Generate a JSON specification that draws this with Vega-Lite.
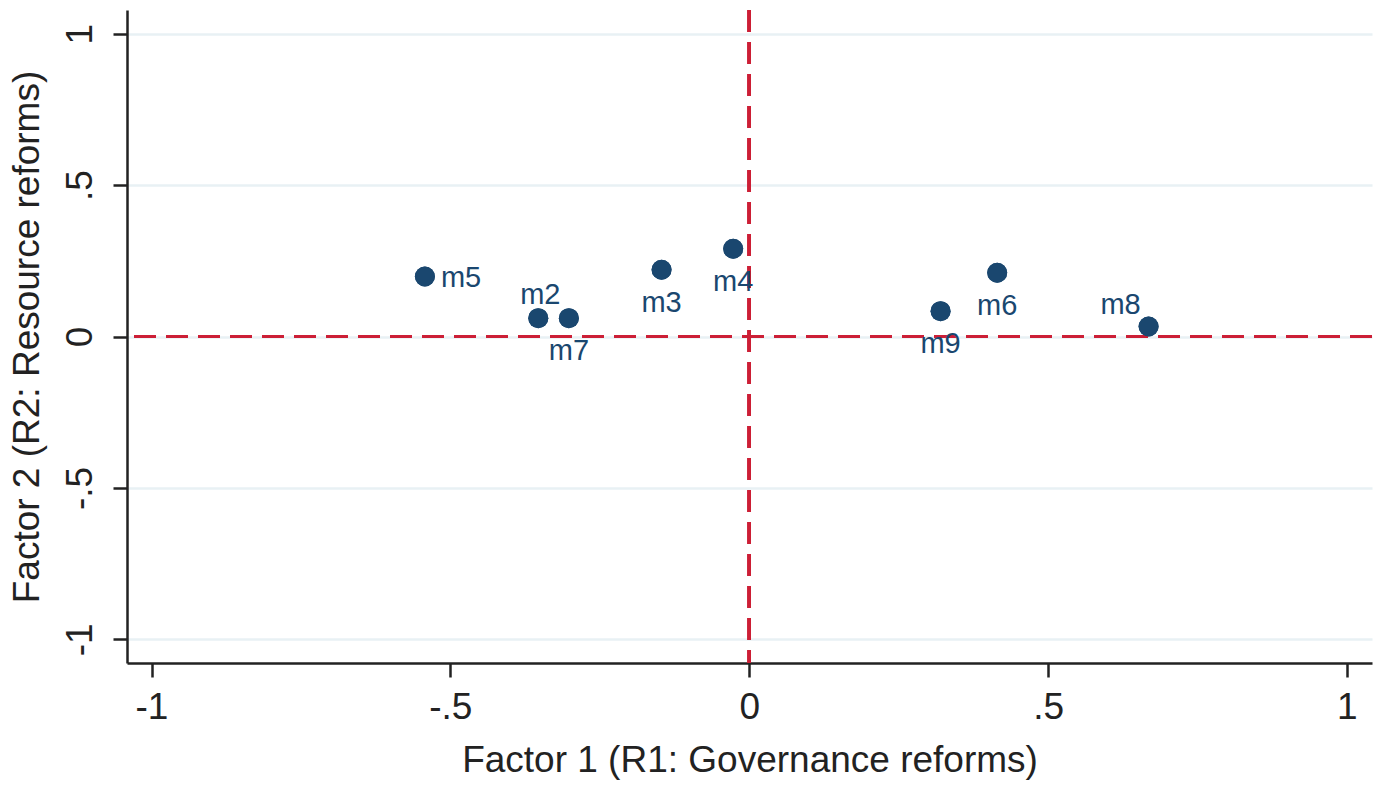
{
  "$schema": "https://vega.github.io/schema/vega-lite/v6.json",
  "width": 1245,
  "height": 653,
  "autosize": "none",
  "padding": {"left": 127, "top": 10, "right": 9, "bottom": 124},
  "background": "white",
  "config": {"view": {"stroke": null}, "font": "Liberation Sans"},
  "data": {
    "values": [
      {"name": "m5", "f1": -0.5426, "f2": 0.198},
      {"name": "m2", "f1": -0.3529, "f2": 0.0605},
      {"name": "m7", "f1": -0.3017, "f2": 0.0605},
      {"name": "m3", "f1": -0.1466, "f2": 0.2204},
      {"name": "m4", "f1": -0.0268, "f2": 0.2897},
      {"name": "m9", "f1": 0.3202, "f2": 0.0836},
      {"name": "m6", "f1": 0.4149, "f2": 0.2104},
      {"name": "m8", "f1": 0.6682, "f2": 0.033}
    ]
  },
  "layer": [
    {
      "mark": {"type": "point", "filled": true, "size": 400, "color": "#1a476f", "opacity": 1},
      "encoding": {
        "x": {
          "field": "f1", "type": "quantitative",
          "scale": {"domain": [-1.041, 1.042], "nice": false, "zero": false},
          "axis": {
            "title": "Factor 1 (R1: Governance reforms)",
            "grid": false,
            "values": [-1, -0.5, 0, 0.5, 1],
            "labelExpr": "datum.value == 1 ? '1' : datum.value == 0.5 ? '.5' : datum.value == 0 ? '0' : datum.value == -0.5 ? '-.5' : '-1'",
            "domainColor": "#222222", "domainWidth": 2.5,
            "tickColor": "#222222", "tickWidth": 2.5, "tickSize": 14,
            "labelFontSize": 37, "labelColor": "#222222", "labelPadding": 12,
            "labelFlush": false, "labelOverlap": false,
            "titleFontSize": 37, "titleFontWeight": "normal", "titleColor": "#222222", "titlePadding": 17
          }
        },
        "y": {
          "field": "f2", "type": "quantitative",
          "scale": {"domain": [-1.078, 1.078], "nice": false, "zero": false},
          "axis": {
            "title": "Factor 2 (R2: Resource reforms)",
            "grid": true, "gridColor": "#e8f1f4", "gridWidth": 2.5,
            "values": [-1, -0.5, 0, 0.5, 1],
            "labelExpr": "datum.value == 1 ? '1' : datum.value == 0.5 ? '.5' : datum.value == 0 ? '0' : datum.value == -0.5 ? '-.5' : '-1'",
            "domainColor": "#222222", "domainWidth": 2.5,
            "tickColor": "#222222", "tickWidth": 2.5, "tickSize": 14,
            "labelAngle": -90, "labelAlign": "center", "labelBaseline": "alphabetic",
            "labelFontSize": 37, "labelColor": "#222222", "labelPadding": 22,
            "labelFlush": false, "labelOverlap": false,
            "titleFontSize": 37, "titleFontWeight": "normal", "titleColor": "#222222", "titlePadding": 15
          }
        }
      }
    },
    {
      "mark": {"type": "rule", "color": "#cc1f36", "strokeWidth": 3, "strokeDash": [22, 10]},
      "encoding": {"y": {"datum": 0, "type": "quantitative"}}
    },
    {
      "mark": {"type": "rule", "color": "#cc1f36", "strokeWidth": 3, "strokeDash": [22, 10]},
      "encoding": {"x": {"datum": 0, "type": "quantitative"}}
    },
    {
      "mark": {"type": "point", "filled": true, "size": 400, "color": "#1a476f", "opacity": 1},
      "encoding": {
        "x": {"field": "f1", "type": "quantitative"},
        "y": {"field": "f2", "type": "quantitative"}
      }
    },
    {
      "transform": [{"filter": {"field": "name", "oneOf": ["m7", "m3", "m4", "m9", "m6"]}}],
      "mark": {"type": "text", "fontSize": 29, "color": "#1a476f", "align": "center", "baseline": "middle", "dy": 33},
      "encoding": {
        "x": {"field": "f1", "type": "quantitative"},
        "y": {"field": "f2", "type": "quantitative"},
        "text": {"field": "name"}
      }
    },
    {
      "transform": [{"filter": {"field": "name", "equal": "m5"}}],
      "mark": {"type": "text", "fontSize": 29, "color": "#1a476f", "align": "left", "baseline": "middle", "dx": 16, "dy": 1},
      "encoding": {
        "x": {"field": "f1", "type": "quantitative"},
        "y": {"field": "f2", "type": "quantitative"},
        "text": {"field": "name"}
      }
    },
    {
      "transform": [{"filter": {"field": "name", "equal": "m2"}}],
      "mark": {"type": "text", "fontSize": 29, "color": "#1a476f", "align": "center", "baseline": "middle", "dx": 2, "dy": -23},
      "encoding": {
        "x": {"field": "f1", "type": "quantitative"},
        "y": {"field": "f2", "type": "quantitative"},
        "text": {"field": "name"}
      }
    },
    {
      "transform": [{"filter": {"field": "name", "equal": "m8"}}],
      "mark": {"type": "text", "fontSize": 29, "color": "#1a476f", "align": "center", "baseline": "middle", "dx": -28, "dy": -22},
      "encoding": {
        "x": {"field": "f1", "type": "quantitative"},
        "y": {"field": "f2", "type": "quantitative"},
        "text": {"field": "name"}
      }
    }
  ]
}
